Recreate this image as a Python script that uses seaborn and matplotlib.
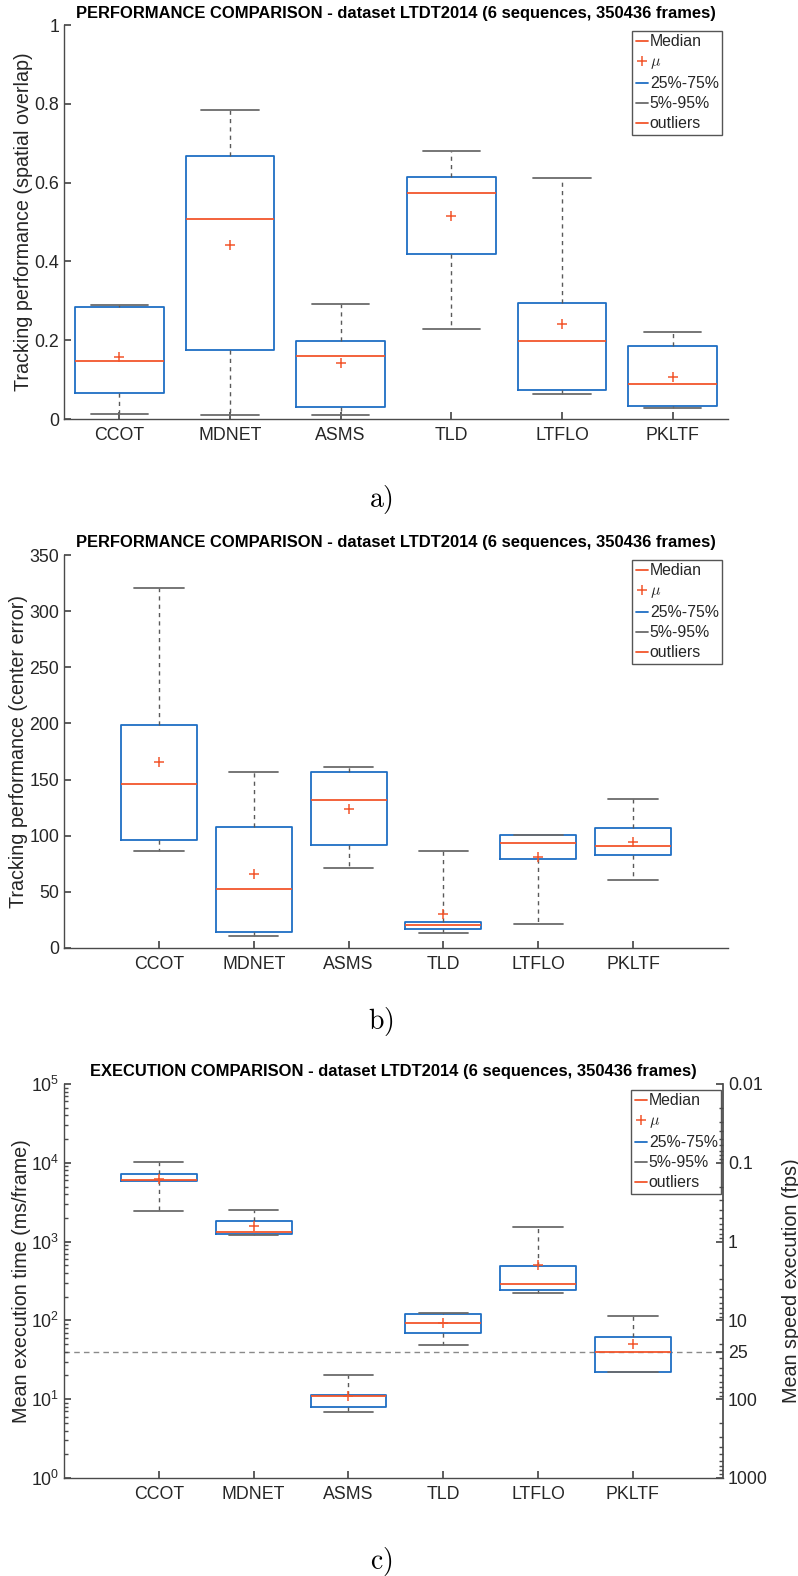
import numpy as np
import matplotlib
matplotlib.use("Agg")
import matplotlib.pyplot as plt
from matplotlib.lines import Line2D
from matplotlib.ticker import NullFormatter, FixedLocator
import seaborn as sns

# ---------------- data ----------------
trackers = ["CCOT", "MDNET", "ASMS", "TLD", "LTFLO", "PKLTF"]

# a) spatial overlap
ov_p05 = [0.012, 0.009, 0.009, 0.228, 0.064, 0.028]
ov_q25 = [0.067, 0.174, 0.030, 0.420, 0.073, 0.033]
ov_med = [0.146, 0.507, 0.161, 0.574, 0.198, 0.088]
ov_q75 = [0.285, 0.668, 0.198, 0.615, 0.295, 0.185]
ov_p95 = [0.290, 0.785, 0.293, 0.681, 0.612, 0.221]
ov_mean = [0.157, 0.442, 0.141, 0.515, 0.240, 0.107]

# b) center error
ce_p05 = [86.5, 10.7, 71.1, 13.3, 21.0, 60.8]
ce_q25 = [96.0, 14.2, 91.9, 16.9, 79.1, 83.0]
ce_med = [145.8, 52.8, 132.2, 20.2, 93.4, 90.4]
ce_q75 = [198.9, 107.9, 157.1, 23.1, 100.2, 106.7]
ce_p95 = [320.4, 156.8, 161.2, 86.8, 100.5, 133.1]
ce_mean = [165.4, 66.1, 124.2, 29.9, 81.2, 94.3]

# c) execution time (ms/frame)
et_p05 = [2420, 1202, 6.8, 49.2, 224, 22.2]
et_q25 = [5810, 1262, 8.0, 69.1, 240, 22.2]
et_med = [6040, 1326, 10.9, 93.3, 291, 39.7]
et_q75 = [7110, 1845, 11.2, 120, 497, 62.1]
et_p95 = [10190, 2540, 20.1, 122.7, 1535, 114.5]
et_mean = [6270, 1595, 11.1, 91.5, 507, 50.1]
realtime_ms = 40  # 25 fps

fps_ticks = [0.01, 0.1, 1, 10, 25, 100, 1000]
fps_labels = ["0.01", "0.1", "1", "10", "25", "100", "1000"]

title_perf = "PERFORMANCE COMPARISON - dataset LTDT2014 (6 sequences, 350436 frames)"
title_exec = "EXECUTION COMPARISON - dataset LTDT2014 (6 sequences, 350436 frames)"
legend_labels = ["Median", r"$\mu$", "25%-75%", "5%-95%", "outliers"]

# ---------------- style ----------------
sns.set_theme(style="ticks")
plt.rcParams["font.family"] = ["Liberation Sans", "DejaVu Sans"]
plt.rcParams["mathtext.fontset"] = "cm"

BLUE = "#1f6ec4"
ORANGE = "#f2562c"
GRAY = "#5a5a5a"
SPINE = "#4a4a4a"
TXT = "#262626"
TICKFS = 12.8
LABELFS = 14.2
TITLEFS = 11.9

W, H = 798, 1576
fig = plt.figure(figsize=(W / 100, H / 100), dpi=100)


def ax_rect(left, right, top, bottom):
    return [left / W, 1 - bottom / H, (right - left) / W, (bottom - top) / H]


def draw_panel(ax, p05, q25, med, q75, p95, mean, xlim, leg_xy):
    pos = np.arange(1, len(trackers) + 1)
    stats = []
    for i in range(len(trackers)):
        stats.append(dict(med=med[i], q1=q25[i], q3=q75[i],
                          whislo=p05[i], whishi=p95[i], fliers=[], mean=mean[i]))
    ax.bxp(stats, positions=pos, widths=0.8, capwidths=0.52, showfliers=False,
           showmeans=False, manage_ticks=False, patch_artist=False,
           boxprops=dict(color=BLUE, linewidth=1.3),
           whiskerprops=dict(color=GRAY, linewidth=1.0, linestyle=(0, (3, 3))),
           capprops=dict(color="#6b6b6b", linewidth=1.3),
           medianprops=dict(color=ORANGE, linewidth=1.3))
    sns.scatterplot(x=pos, y=mean, marker="+", color=ORANGE, s=60,
                    linewidth=1.1, ax=ax, zorder=5, legend=False)
    ax.set_xlim(*xlim)
    ax.set_xticks(pos)
    ax.set_xticklabels(trackers)
    for s in ["top", "right"]:
        ax.spines[s].set_visible(False)
    for s in ["left", "bottom"]:
        ax.spines[s].set_color(SPINE)
        ax.spines[s].set_linewidth(1.0)
    ax.tick_params(axis="both", which="both", direction="in", colors=SPINE,
                   labelcolor=TXT, labelsize=TICKFS)
    ax.tick_params(axis="both", which="major", length=5)
    ax.tick_params(axis="x", pad=6)
    handles = [
        Line2D([], [], color=ORANGE, lw=1.3),
        Line2D([], [], color=ORANGE, marker="+", ls="none", ms=7, mew=1.1),
        Line2D([], [], color=BLUE, lw=1.3),
        Line2D([], [], color="#6b6b6b", lw=1.3),
        Line2D([], [], color=ORANGE, lw=1.3),
    ]
    leg = ax.legend(handles, legend_labels, loc="upper right", fontsize=11.4,
                    handlelength=0.78, handletextpad=0.12, borderpad=0.2,
                    labelspacing=0.32, frameon=True, fancybox=False,
                    edgecolor="#555555", framealpha=1, borderaxespad=0,
                    bbox_to_anchor=(leg_xy[0] / W, 1 - leg_xy[1] / H),
                    bbox_transform=fig.transFigure)
    leg.get_frame().set_linewidth(1.0)
    for t in leg.get_texts():
        t.set_color(TXT)


# ---- panel a ----
ax1 = fig.add_axes(ax_rect(64, 728, 25, 419))
draw_panel(ax1, ov_p05, ov_q25, ov_med, ov_q75, ov_p95, ov_mean, (0.5, 6.5), (722, 31))
ax1.set_ylim(0, 1)
ax1.set_yticks([0, 0.2, 0.4, 0.6, 0.8, 1])
ax1.set_yticklabels(["0", "0.2", "0.4", "0.6", "0.8", "1"])
ax1.set_ylabel("Tracking performance (spatial overlap)", fontsize=LABELFS, color=TXT, labelpad=1)
ax1.set_title(title_perf, fontsize=TITLEFS, fontweight="bold", color="black", pad=5)

# ---- panel b ----
ax2 = fig.add_axes(ax_rect(64, 728, 555, 948))
draw_panel(ax2, ce_p05, ce_q25, ce_med, ce_q75, ce_p95, ce_mean, (0, 7), (722, 560))
ax2.set_ylim(0, 350)
ax2.set_yticks(np.arange(0, 351, 50))
ax2.set_ylabel("Tracking performance (center error)", fontsize=LABELFS, color=TXT, labelpad=1)
ax2.set_title(title_perf, fontsize=TITLEFS, fontweight="bold", color="black", pad=6)

# ---- panel c ----
ax3 = fig.add_axes(ax_rect(64, 723, 1084, 1478))
ax3.set_yscale("log")
draw_panel(ax3, et_p05, et_q25, et_med, et_q75, et_p95, et_mean, (0, 6.95), (721, 1090))
ax3.set_ylim(1, 1e5)
ax3.axhline(realtime_ms, color="#8a8a8a", lw=1.0, ls=(0, (4, 3)), zorder=0)
ax3.set_ylabel("Mean execution time (ms/frame)", fontsize=LABELFS, color=TXT, labelpad=0)
ax3.set_title(title_exec, fontsize=TITLEFS, fontweight="bold", color="black", pad=6)
ax3.tick_params(axis="y", which="minor", length=3)

ax3r = ax3.twinx()
ax3r.set_yscale("log")
ax3r.set_ylim(1000, 0.01)
ax3r.yaxis.set_major_locator(FixedLocator(fps_ticks))
ax3r.set_yticklabels(fps_labels)
ax3r.yaxis.set_minor_formatter(NullFormatter())
for s in ["top", "left", "bottom"]:
    ax3r.spines[s].set_visible(False)
ax3r.spines["right"].set_color(SPINE)
ax3r.tick_params(axis="y", which="both", direction="in", colors=SPINE,
                 labelcolor=TXT, labelsize=TICKFS)
ax3r.tick_params(axis="y", which="major", length=5)
ax3r.tick_params(axis="y", which="minor", length=3)
ax3r.set_ylabel("Mean speed execution (fps)", fontsize=LABELFS, color=TXT, labelpad=10)
ax3r.grid(False)

# ---- captions ----
for label, ypix in [("a)", 500), ("b)", 1022), ("c)", 1562)]:
    fig.text(381 / W, 1 - ypix / H, r"$\mathrm{" + label + "}$", fontsize=20,
             ha="center", va="center", color="black")

fig.savefig("out.png", dpi=100)
